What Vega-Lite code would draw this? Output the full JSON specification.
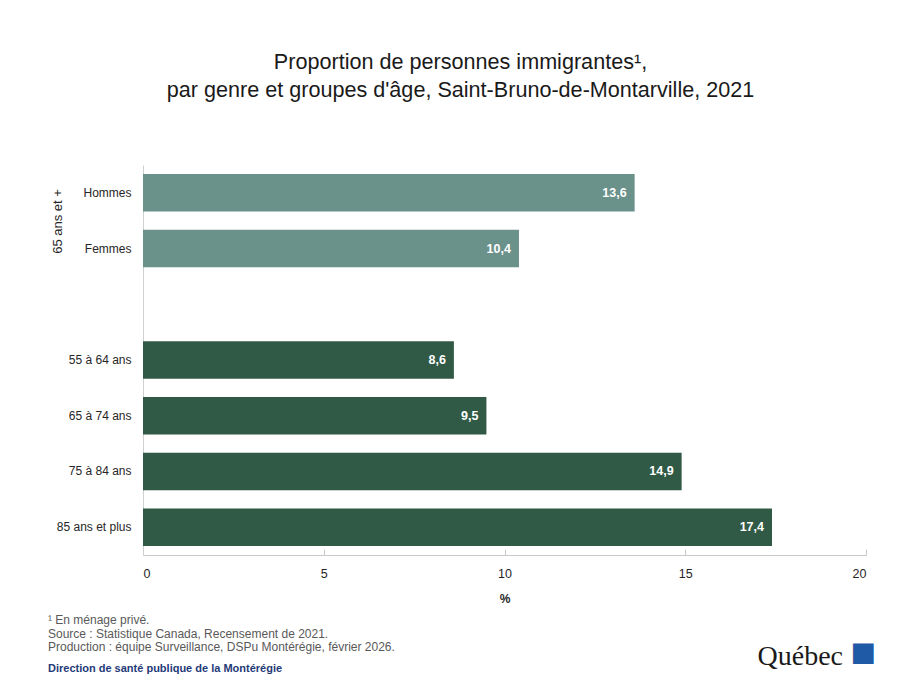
{
  "$schema": "https://vega.github.io/schema/vega-lite/v6.json",
  "width": 723,
  "height": 390,
  "autosize": {"type": "none"},
  "padding": {"left": 143, "top": 165, "right": 38, "bottom": 129},
  "background": "white",
  "config": {
    "view": {"stroke": null},
    "font": "Liberation Sans",
    "locale": {"number": {"decimal": ",", "thousands": " ", "grouping": [3], "currency": ["", " $"]}}
  },
  "title": {
    "text": ["¹ En ménage privé.", "Source : Statistique Canada, Recensement de 2021.", "Production : équipe Surveillance, DSPu Montérégie, février 2026."],
    "subtitle": "Direction de santé publique de la Montérégie",
    "orient": "bottom",
    "anchor": "start",
    "frame": "group",
    "dx": -95,
    "offset": -55,
    "font": "Liberation Sans",
    "fontSize": 12,
    "fontWeight": "normal",
    "color": "#595959",
    "lineHeight": 13.5,
    "subtitleFont": "Liberation Sans",
    "subtitleFontSize": 11,
    "subtitleFontWeight": "bold",
    "subtitleColor": "#1f3a78",
    "subtitlePadding": 9
  },
  "data": {
    "values": [
      {"categorie": "Hommes", "groupe": "65 ans et +", "valeur": 13.6},
      {"categorie": "Femmes", "groupe": "65 ans et +", "valeur": 10.4},
      {"categorie": "55 à 64 ans", "groupe": "Âge", "valeur": 8.6},
      {"categorie": "65 à 74 ans", "groupe": "Âge", "valeur": 9.5},
      {"categorie": "75 à 84 ans", "groupe": "Âge", "valeur": 14.9},
      {"categorie": "85 ans et plus", "groupe": "Âge", "valeur": 17.4}
    ]
  },
  "layer": [
    {
      "mark": {"type": "bar"},
      "encoding": {
        "y": {
          "field": "categorie",
          "type": "nominal",
          "sort": null,
          "scale": {"domain": ["Hommes", "Femmes", " ", "55 à 64 ans", "65 à 74 ans", "75 à 84 ans", "85 ans et plus"], "paddingInner": 0.327, "paddingOuter": 0.163},
          "axis": {
            "title": "65 ans et +",
            "titleFont": "Liberation Sans",
            "titleFontSize": 13,
            "titleFontWeight": "normal",
            "titleColor": "#262626",
            "titleAngle": -90,
            "titleAlign": "center",
            "titleAnchor": null,
            "titleBaseline": "bottom",
            "titleX": -79,
            "titleY": 56,
            "labelFontSize": 12,
            "labelColor": "#262626",
            "labelPadding": 12,
            "ticks": false,
            "domainColor": "#d0d0d0",
            "domainWidth": 1
          }
        },
        "x": {
          "field": "valeur",
          "type": "quantitative",
          "scale": {"domain": [0, 20], "nice": false},
          "axis": {
            "title": "%",
            "titleFontSize": 12,
            "titleFontWeight": "bold",
            "titleColor": "#262626",
            "titlePadding": 14,
            "values": [0, 5, 10, 15, 20],
            "labelFontSize": 12.5,
            "labelColor": "#262626",
            "labelPadding": 18,
            "tickSize": -6,
            "tickColor": "#c8c8c8",
            "domainColor": "#c8c8c8",
            "grid": false
          }
        },
        "color": {
          "field": "groupe",
          "type": "nominal",
          "scale": {"domain": ["65 ans et +", "Âge"], "range": ["#6b918b", "#305a45"]},
          "legend": null
        }
      }
    },
    {
      "mark": {"type": "text", "align": "right", "baseline": "middle", "dx": -8, "color": "white", "fontSize": 12.5, "fontWeight": "bold", "font": "Liberation Sans"},
      "encoding": {
        "y": {
          "field": "categorie",
          "type": "nominal",
          "sort": null,
          "scale": {"domain": ["Hommes", "Femmes", " ", "55 à 64 ans", "65 à 74 ans", "75 à 84 ans", "85 ans et plus"], "paddingInner": 0.327, "paddingOuter": 0.163},
          "axis": {
            "orient": "right",
            "title": "Québec",
            "titleFont": "Liberation Serif",
            "titleFontSize": 28,
            "titleFontWeight": "normal",
            "titleColor": "#1a1a1a",
            "titleAngle": 0,
            "titleAlign": "left",
            "titleAnchor": null,
            "titleBaseline": "alphabetic",
            "titleX": -109,
            "titleY": 499,
            "ticks": false,
            "domain": false,
            "labelExpr": "datum.value === '85 ans et plus' ? '■' : ''",
            "labelColor": "#1f5aa6",
            "labelFontSize": 27,
            "labelFont": "DejaVu Sans",
            "labelOffset": 125,
            "labelPadding": -16
          }
        },
        "x": {
          "field": "valeur",
          "type": "quantitative",
          "scale": {"domain": [0, 20], "nice": false},
          "axis": {
            "orient": "top",
            "title": ["Proportion de personnes immigrantes¹,", "par genre et groupes d'âge, Saint-Bruno-de-Montarville, 2021"],
            "titleFont": "Liberation Sans",
            "titleFontSize": 21.6,
            "titleFontWeight": "normal",
            "titleColor": "#1a1a1a",
            "titleLineHeight": 28,
            "titleAlign": "center",
            "titleAnchor": null,
            "titleBaseline": "alphabetic",
            "titleX": 317,
            "titleY": -97,
            "labels": false,
            "ticks": false,
            "domain": false,
            "grid": false
          }
        },
        "text": {"field": "valeur", "type": "quantitative", "format": ".1f"}
      }
    }
  ],
  "resolve": {"scale": {"x": "independent", "y": "independent"}, "axis": {"x": "independent", "y": "independent"}}
}
